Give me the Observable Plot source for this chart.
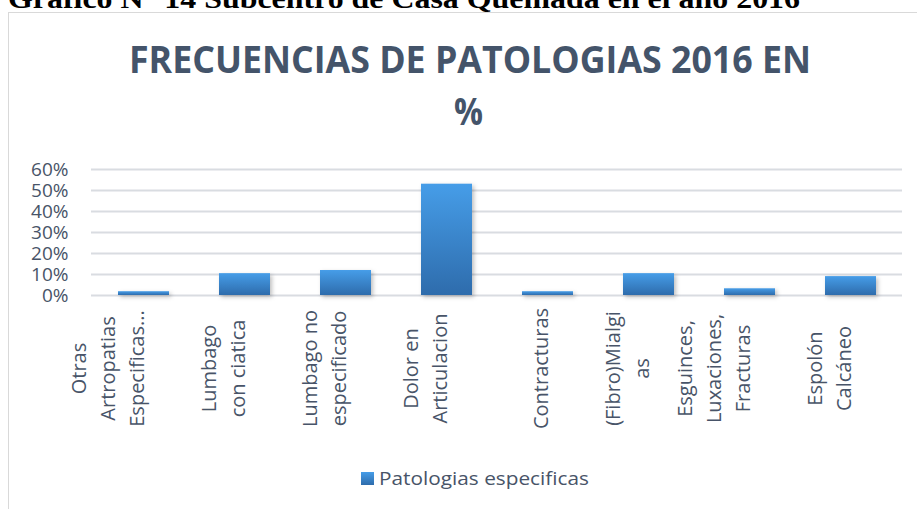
<!DOCTYPE html>
<html>
<head>
<meta charset="utf-8">
<script src="https://cdn.jsdelivr.net/npm/d3@7"></script>
<script src="https://cdn.jsdelivr.net/npm/@observablehq/plot@0.6"></script>
<style>
  body { margin: 0; background: #fff; }
  #wrap { position: relative; width: 917px; height: 509px; overflow: hidden; background: #fff; }
  #frame { position: absolute; left: 8px; top: 12px; width: 960px; height: 560px;
           border-left: 1px solid #d9d9d9; border-top: 1px solid #d9d9d9; }
  #head { position: absolute; left: 0; top: 0; }
  #chart { position: absolute; left: 0; top: 150px; }
  #legend { position: absolute; left: 0; top: 450px; }
</style>
</head>
<body>
<div id="wrap">
  <div id="frame"></div>
  <svg id="head" width="917" height="150" xmlns="http://www.w3.org/2000/svg">
    <text x="8" y="8" font-family="Liberation Serif, serif" font-weight="bold" font-size="28" fill="#000"
          textLength="792" lengthAdjust="spacingAndGlyphs">Gráfico N° 14 Subcentro de Casa Quemada en el año 2016</text>
    <text x="129" y="73" font-family="Open Sans" font-weight="bold" font-size="38" fill="#44546A"
          textLength="682" lengthAdjust="spacingAndGlyphs">FRECUENCIAS DE PATOLOGIAS 2016 EN</text>
    <text x="454" y="125" font-family="Open Sans" font-weight="bold" font-size="38" fill="#44546A"
          textLength="29" lengthAdjust="spacingAndGlyphs">%</text>
  </svg>
  <div id="chart"></div>
  <svg id="legend" width="917" height="59" xmlns="http://www.w3.org/2000/svg">
    <defs>
      <linearGradient id="legGrad" x1="0" y1="0" x2="0" y2="1">
        <stop offset="0" stop-color="#469DE8"/>
        <stop offset="1" stop-color="#2E6CAC"/>
      </linearGradient>
    </defs>
    <rect x="361" y="22" width="13" height="13" fill="url(#legGrad)"/>
    <text x="379" y="35" font-family="Open Sans" font-size="18" fill="#485468"
          textLength="210" lengthAdjust="spacingAndGlyphs">Patologias especificas</text>
  </svg>
</div>
<script>
const categories = [
  "Otras\nArtropatias\nEspecificas...",
  "Lumbago\ncon ciatica",
  "Lumbago no\nespecificado",
  "Dolor en\nArticulacion",
  "Contracturas",
  "(Fibro)Mialgi\nas",
  "Esguinces,\nLuxaciones,\nFracturas",
  "Espolón\nCalcáneo"
];
const values = [0.018, 0.104, 0.119, 0.530, 0.018, 0.104, 0.032, 0.090];
const yTicks = [0, 0.1, 0.2, 0.3, 0.4, 0.5, 0.6];
const seriesName = "Patologias especificas";

const data = categories.map((c, i) => ({cat: c, value: values[i]}));
const textColor = "#485468";

const plot = Plot.plot({
  width: 917,
  height: 300,
  marginLeft: 91,
  marginRight: 15,
  marginTop: 19,
  marginBottom: 155,
  style: {fontFamily: "Open Sans", fontSize: "19px", color: textColor, background: "transparent"},
  x: {domain: categories, paddingInner: 0.5, paddingOuter: 0.25, axis: null},
  y: {domain: [0, 0.6], axis: null},
  marks: [
    Plot.gridY(yTicks, {stroke: "#d9dce1", strokeOpacity: 1, strokeWidth: 2}),
    Plot.axisY(yTicks, {label: null, tickFormat: d3.format(".0%"), tickSize: 0, tickPadding: 23, fontSize: 19, fill: textColor}),
    Plot.barY(data, {x: "cat", y: "value", fill: "url(#barGrad)"}),
    Plot.text(categories, {x: d => d, frameAnchor: "bottom", dy: 73, rotate: -90,
      text: d => d, fontSize: 20, lineHeight: 1.45, fill: textColor})
  ]
});

const ns = "http://www.w3.org/2000/svg";
const defs = document.createElementNS(ns, "defs");
const grad = document.createElementNS(ns, "linearGradient");
grad.setAttribute("id", "barGrad");
grad.setAttribute("x1", "0"); grad.setAttribute("y1", "0");
grad.setAttribute("x2", "0"); grad.setAttribute("y2", "1");
[["0", "#469DE8"], ["1", "#2E6CAC"]].forEach(([o, c]) => {
  const s = document.createElementNS(ns, "stop");
  s.setAttribute("offset", o); s.setAttribute("stop-color", c);
  grad.appendChild(s);
});
defs.appendChild(grad);
plot.insertBefore(defs, plot.firstChild);
plot.querySelectorAll('g[aria-label="bar"]').forEach(g => {
  g.style.filter = "drop-shadow(2px 2px 2px rgba(0,0,0,0.25))";
});
document.getElementById("chart").appendChild(plot);
</script>
</body>
</html>
